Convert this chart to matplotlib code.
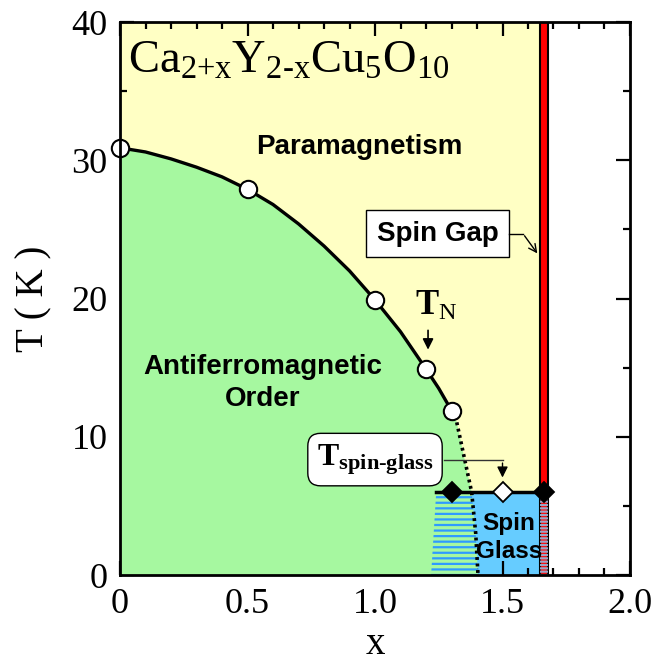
import numpy as np
import matplotlib
matplotlib.use("Agg")
import matplotlib.pyplot as plt
from matplotlib.patches import Rectangle, Polygon
from matplotlib.ticker import MultipleLocator, FixedLocator

plt.rcParams['font.family'] = ['Liberation Serif', 'DejaVu Serif']
plt.rcParams['mathtext.fontset'] = 'custom'
plt.rcParams['mathtext.rm'] = 'Liberation Serif'
plt.rcParams['mathtext.it'] = 'Liberation Serif:italic'
plt.rcParams['mathtext.bf'] = 'Liberation Serif:bold'
plt.rcParams['hatch.linewidth'] = 1.6

# --- data ---
tn_x = [0.0, 0.5, 1.0, 1.2, 1.3]
tn_T = [30.9, 27.9, 19.9, 14.9, 11.9]

# solid T_N line
curve_x = [0.0, 0.1, 0.2, 0.3, 0.4, 0.5, 0.6, 0.7, 0.8, 0.9, 1.0, 1.1, 1.2, 1.25, 1.3]
curve_T = [30.9, 30.6, 30.1, 29.5, 28.8, 27.9, 26.8, 25.4, 23.8, 22.0, 19.9, 17.6, 14.9, 13.5, 11.9]
# dotted extrapolation down to T = 0
dot_x = [1.3, 1.32, 1.35, 1.379, 1.395, 1.404]
dot_T = [11.9, 11.1, 8.5, 6.0, 3.0, 0.0]

# spin glass freezing points
sg_x = [1.3, 1.5, 1.663]
sg_T = [6.0, 6.0, 6.0]
sg_fill = ['k', 'w', 'k']
sg_line_x = [1.24, 1.663]

# hatched mixed region
hatch_x = [1.22, 1.24, 1.379, 1.395, 1.404]
hatch_T = [0.0, 6.0, 6.0, 3.0, 0.0]

gap_x = 1.663      # spin gap boundary
T_sg = 6.0
T_top = 40.0

YELLOW = '#FFFFC4'
GREEN = '#A6F8A0'
BLUE = '#66CCFF'

fig = plt.figure(figsize=(6.54, 6.65), dpi=100)
ax = fig.add_axes([0.1835, 0.1353, 0.7798, 0.8316])

# background regions
ax.add_patch(Rectangle((0, 0), gap_x, T_top, facecolor=YELLOW, edgecolor='none', zorder=0))
ax.add_patch(Rectangle((1.3, 0), gap_x - 1.3, T_sg, facecolor=BLUE, edgecolor='none', zorder=1))
all_x = curve_x + dot_x[1:]
all_T = curve_T + dot_T[1:]
ax.fill_between(all_x, 0, all_T, facecolor=GREEN, edgecolor='none', zorder=2)
ax.add_patch(Polygon(list(zip(hatch_x, hatch_T)), closed=True, facecolor='none',
                     edgecolor='#2E9BFF', linewidth=0, hatch='---', zorder=3))

# T_N line
ax.plot(curve_x, curve_T, color='k', lw=2.4, zorder=5)
ax.plot(dot_x, dot_T, color='k', lw=2.6, linestyle=(0, (0.8, 1.0)), zorder=5)

# spin gap line (thick red with black edges)
w = 0.032
ax.add_patch(Rectangle((gap_x - w / 2, 0), w, T_top, facecolor='#FF0000', edgecolor='k',
                       linewidth=1.5, zorder=6))
ax.add_patch(Rectangle((gap_x - w / 2, 0), w, T_sg, facecolor='none', edgecolor='#9AA6C8',
                       linewidth=0, hatch='-----', zorder=6))

# spin glass boundary line
ax.plot(sg_line_x, [T_sg, T_sg], color='k', lw=2.5, zorder=7)
for x, T, fc in zip(sg_x, sg_T, sg_fill):
    ax.plot(x, T, marker='D', markersize=10, markerfacecolor=fc, markeredgecolor='k',
            markeredgewidth=1.3, zorder=8, clip_on=False)

ax.plot(tn_x, tn_T, 'o', markersize=12.5, markerfacecolor='w', markeredgecolor='k',
        markeredgewidth=1.5, zorder=8, clip_on=False)

# text labels
sans = 'Liberation Sans'
ax.text(0.94, 30.95, 'Paramagnetism', family=sans, weight='bold', fontsize=20,
        ha='center', va='center', zorder=9)
ax.text(0.56, 13.9, 'Antiferromagnetic\nOrder', family=sans, weight='bold', fontsize=20,
        ha='center', va='center', linespacing=1.3, zorder=9)
ax.text(1.525, 2.7, 'Spin\nGlass', family=sans, weight='bold', fontsize=17.5,
        ha='center', va='center', linespacing=1.3, zorder=9)
ax.text(1.245, 24.7, 'Spin Gap', family=sans, weight='bold', fontsize=20,
        ha='center', va='center', zorder=9,
        bbox=dict(boxstyle='square,pad=0.38', facecolor='w', edgecolor='k', linewidth=1.0))

ax.text(0.03, 37.15, r'$\mathrm{Ca_{2{+}x}Y_{2\text{-}x}Cu_{5}O_{10}}$', fontsize=33.5,
        ha='left', va='center', zorder=9)

ax.text(1.24, 19.45, r'$\mathbf{T}_{\mathrm{N}}$', fontsize=25, ha='center', va='center', zorder=9)
ax.annotate('', xy=(1.208, 16.1), xytext=(1.208, 17.9),
            arrowprops=dict(arrowstyle='-|>', color='k', lw=1.2, mutation_scale=16), zorder=9)

ax.text(1.0, 8.35, r'$\mathbf{T}_{\mathbf{spin}\text{-}\mathbf{glass}}$', fontsize=23,
        ha='center', va='center', zorder=9,
        bbox=dict(boxstyle='round,pad=0.28,rounding_size=0.4', facecolor='w', edgecolor='k',
                  linewidth=1.0))
ax.plot([1.27, 1.5], [8.3, 8.3], color='#333333', lw=1.0, zorder=9)
ax.annotate('', xy=(1.5, 6.85), xytext=(1.5, 8.3),
            arrowprops=dict(arrowstyle='-|>', color='k', lw=1.0, mutation_scale=16), zorder=9)

ax.plot([1.525, 1.58], [24.7, 24.7], color='k', lw=1.0, zorder=9)
ax.annotate('', xy=(1.643, 23.1), xytext=(1.58, 24.7),
            arrowprops=dict(arrowstyle='->', color='k', lw=1.0, mutation_scale=14), zorder=9)

# axes
ax.set_xlim(0, 2.0)
ax.set_ylim(0, 40)
ax.xaxis.set_major_locator(FixedLocator([0, 0.5, 1.0, 1.5, 2.0]))
ax.set_xticklabels(['0', '0.5', '1.0', '1.5', '2.0'])
ax.xaxis.set_minor_locator(MultipleLocator(0.1))
ax.yaxis.set_major_locator(MultipleLocator(10))
ax.yaxis.set_minor_locator(MultipleLocator(5))
ax.tick_params(which='both', direction='in', top=True, right=True, width=1.6,
               labelsize=26, pad=9)
ax.tick_params(which='major', length=10)
ax.tick_params(which='minor', length=5)
for s in ax.spines.values():
    s.set_linewidth(2.0)
    s.set_zorder(10)

ax.set_xlabel('x', fontsize=28, labelpad=4)
ax.set_ylabel('T ( K )', fontsize=28, labelpad=14)

fig.savefig('out.png', dpi=100)
